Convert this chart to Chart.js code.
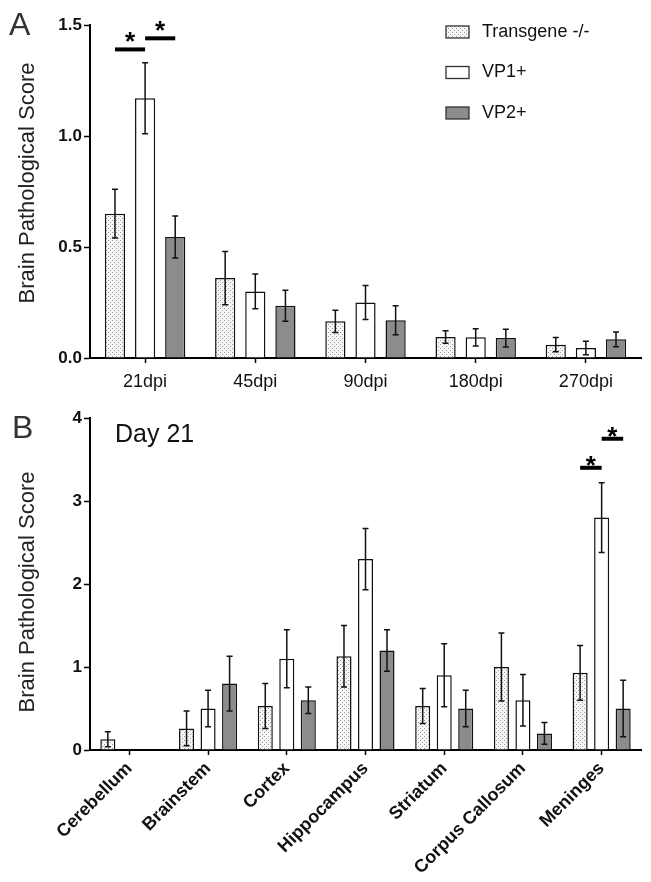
<!DOCTYPE html>
<html>
<head>
<meta charset="utf-8">
<script src="https://cdn.jsdelivr.net/npm/chart.js@4.4.0/dist/chart.umd.min.js"></script>
<style>
  body { margin: 0; background: #fff; }
  #wrapA { position: absolute; left: 0; top: 0; width: 651px; height: 400px; }
  #wrapB { position: absolute; left: 0; top: 400px; width: 651px; height: 482px; }
</style>
</head>
<body>
<div id="wrapA"><canvas id="chartA" width="651" height="400"></canvas></div>
<div id="wrapB"><canvas id="chartB" width="651" height="482"></canvas></div>
<script>
// ---- data ----
const groups = ['Transgene -/-', 'VP1+', 'VP2+'];

// panel A: score over time
const timeLabels = ['21dpi', '45dpi', '90dpi', '180dpi', '270dpi'];
const timeTransgene = [0.65, 0.36, 0.165, 0.095, 0.06];
const timeTransgeneErr = [0.11, 0.12, 0.05, 0.028, 0.032];
const timeVP1 = [1.17, 0.30, 0.25, 0.093, 0.045];
const timeVP1Err = [0.16, 0.078, 0.077, 0.039, 0.03];
const timeVP2 = [0.545, 0.235, 0.17, 0.09, 0.084];
const timeVP2Err = [0.095, 0.07, 0.065, 0.04, 0.033];
const timeTicks = [0, 0.5, 1.0, 1.5];

// panel B: day 21 by region
const regionLabels = ['Cerebellum', 'Brainstem', 'Cortex', 'Hippocampus', 'Striatum', 'Corpus Callosum', 'Meninges'];
const regionTransgene = [0.13, 0.26, 0.53, 1.13, 0.53, 1.00, 0.93];
const regionTransgeneErr = [0.09, 0.21, 0.27, 0.37, 0.21, 0.41, 0.33];
const regionVP1 = [0, 0.50, 1.10, 2.30, 0.90, 0.60, 2.80];
const regionVP1Err = [0, 0.22, 0.35, 0.37, 0.38, 0.31, 0.42];
const regionVP2 = [0, 0.80, 0.60, 1.20, 0.50, 0.20, 0.50];
const regionVP2Err = [0, 0.33, 0.16, 0.25, 0.22, 0.13, 0.34];
const regionTicks = [0, 1, 2, 3, 4];

// significance bars: category, from group, to group, height (score units)
const sigA = [{ cat: 0, from: 0, to: 1, y: 1.39 }, { cat: 0, from: 1, to: 2, y: 1.44 }];
const sigB = [{ cat: 6, from: 0, to: 1, y: 3.40 }, { cat: 6, from: 1, to: 2, y: 3.75 }];

const FONT = "'Liberation Sans', Arial, sans-serif";

function dotPattern() {
  const c = document.createElement('canvas');
  c.width = 4; c.height = 4;
  const g = c.getContext('2d');
  g.fillStyle = '#f6f6f6'; g.fillRect(0, 0, 4, 4);
  g.fillStyle = '#9a9a9a';
  g.fillRect(0, 0, 1, 1); g.fillRect(2, 2, 1, 1);
  return g.createPattern(c, 'repeat');
}
const dots = dotPattern();
const fills = [dots, '#ffffff', '#8c8c8c'];

// error bars + significance marks + text bits
const extras = {
  id: 'extras',
  afterDatasetsDraw(chart, args, o) {
    const ctx = chart.ctx, ys = chart.scales.y;
    ctx.save();
    ctx.strokeStyle = '#111';
    ctx.lineWidth = 1.5;
    o.errors.forEach((errs, i) => {
      const meta = chart.getDatasetMeta(i);
      const vals = chart.data.datasets[i].data;
      meta.data.forEach((bar, j) => {
        if (!errs[j]) return;
        const top = ys.getPixelForValue(vals[j] + errs[j]);
        const bot = ys.getPixelForValue(Math.max(0, vals[j] - errs[j]));
        ctx.beginPath();
        ctx.moveTo(bar.x, top); ctx.lineTo(bar.x, bot);
        ctx.moveTo(bar.x - 3, top); ctx.lineTo(bar.x + 3, top);
        ctx.moveTo(bar.x - 3, bot); ctx.lineTo(bar.x + 3, bot);
        ctx.stroke();
      });
    });
    // significance
    ctx.lineWidth = 4;
    ctx.strokeStyle = '#000';
    ctx.fillStyle = '#000';
    ctx.font = 'bold 26px ' + FONT;
    ctx.textAlign = 'center';
    ctx.textBaseline = 'alphabetic';
    o.sig.forEach(s => {
      const x1 = chart.getDatasetMeta(s.from).data[s.cat].x;
      const x2 = chart.getDatasetMeta(s.to).data[s.cat].x;
      const y = ys.getPixelForValue(s.y);
      ctx.beginPath();
      ctx.moveTo(x1, y); ctx.lineTo(x2, y);
      ctx.stroke();
      ctx.fillText('*', (x1 + x2) / 2, y + 15 - o.starGap);
    });
    ctx.restore();
  },
  afterDraw(chart, args, o) {
    const ctx = chart.ctx;
    ctx.save();
    ctx.fillStyle = '#333';
    ctx.font = '32px ' + FONT;
    ctx.textAlign = 'left';
    ctx.textBaseline = 'alphabetic';
    ctx.fillText(o.letter, o.letterX, o.letterY);
    // axis title
    ctx.fillStyle = '#222';
    ctx.font = '22px ' + FONT;
    ctx.textAlign = 'center';
    ctx.textBaseline = 'middle';
    ctx.translate(o.titleX, o.titleY);
    ctx.rotate(-Math.PI / 2);
    ctx.fillText('Brain Pathological Score', 0, 0);
    ctx.restore();
    if (o.note) {
      ctx.save();
      ctx.fillStyle = '#111';
      ctx.font = '25px ' + FONT;
      ctx.textBaseline = 'alphabetic';
      ctx.fillText(o.note, o.noteX, o.noteY);
      ctx.restore();
    }
    if (o.legend) {
      ctx.save();
      ctx.font = '18px ' + FONT;
      ctx.textBaseline = 'middle';
      chart.data.datasets.forEach((ds, i) => {
        const cy = 32 + i * 40.5;
        ctx.fillStyle = ds.backgroundColor;
        ctx.fillRect(446, cy - 6, 23, 12);
        ctx.strokeStyle = '#333';
        ctx.lineWidth = 1.3;
        ctx.strokeRect(446, cy - 6, 23, 12);
        ctx.fillStyle = '#111';
        ctx.fillText(ds.label, 482, cy);
      });
      ctx.restore();
    }
  }
};

function makeDatasets(series, bp) {
  return series.map((d, i) => ({
    label: groups[i],
    data: d,
    backgroundColor: fills[i],
    borderColor: '#111',
    borderWidth: 1.5,
    categoryPercentage: 0.82,
    barPercentage: bp
  }));
}

function makeOptions(c) {
  return {
    responsive: false,
    animation: false,
    layout: { padding: { top: c.padTop, right: 10, left: 0, bottom: 0 } },
    plugins: {
      legend: { display: false },
      tooltip: { enabled: false },
      extras: c.extras
    },
    scales: {
      x: {
        grid: { drawOnChartArea: false, offset: false, color: '#000', tickLength: 5, tickWidth: 1.5 },
        border: { color: '#000', width: 2 },
        ticks: {
          color: '#111', autoSkip: false, padding: c.xPad,
          maxRotation: c.rot, minRotation: c.rot,
          font: { family: FONT, size: c.xSize, weight: c.xWeight }
        },
        afterFit(s) { s.height = c.xHeight; }
      },
      y: {
        min: 0, max: c.ticks[c.ticks.length - 1],
        afterBuildTicks(s) { s.ticks = c.ticks.map(v => ({ value: v })); },
        ticks: {
          color: '#111', padding: 2,
          font: { family: FONT, size: 17, weight: 'bold' },
          callback: c.fmt
        },
        grid: { drawOnChartArea: false, color: '#000', tickLength: 6, tickWidth: 1.5 },
        border: { color: '#000', width: 2 },
        afterFit(s) { s.width = 90; }
      }
    }
  };
}

new Chart(document.getElementById('chartA'), {
  type: 'bar',
  data: {
    labels: timeLabels,
    datasets: makeDatasets([timeTransgene, timeVP1, timeVP2], 0.67)
  },
  options: makeOptions({
    padTop: 25, xHeight: 42, xPad: 8, rot: 0, xSize: 18, xWeight: 'normal',
    ticks: timeTicks, fmt: v => v.toFixed(1),
    extras: {
      errors: [timeTransgeneErr, timeVP1Err, timeVP2Err],
      sig: sigA, starGap: 14,
      letter: 'A', letterX: 9, letterY: 35,
      titleX: 28, titleY: 183, legend: true
    }
  }),
  plugins: [extras]
});

new Chart(document.getElementById('chartB'), {
  type: 'bar',
  data: {
    labels: regionLabels,
    datasets: makeDatasets([regionTransgene, regionVP1, regionVP2], 0.7)
  },
  options: makeOptions({
    padTop: 18, xHeight: 132, xPad: 3, rot: 45, xSize: 18, xWeight: 'bold',
    ticks: regionTicks, fmt: v => String(v),
    extras: {
      errors: [regionTransgeneErr, regionVP1Err, regionVP2Err],
      sig: sigB, starGap: 9,
      letter: 'B', letterX: 12, letterY: 38,
      titleX: 28, titleY: 192, legend: false,
      note: 'Day 21', noteX: 115, noteY: 42
    }
  }),
  plugins: [extras]
});
</script>
</body>
</html>
